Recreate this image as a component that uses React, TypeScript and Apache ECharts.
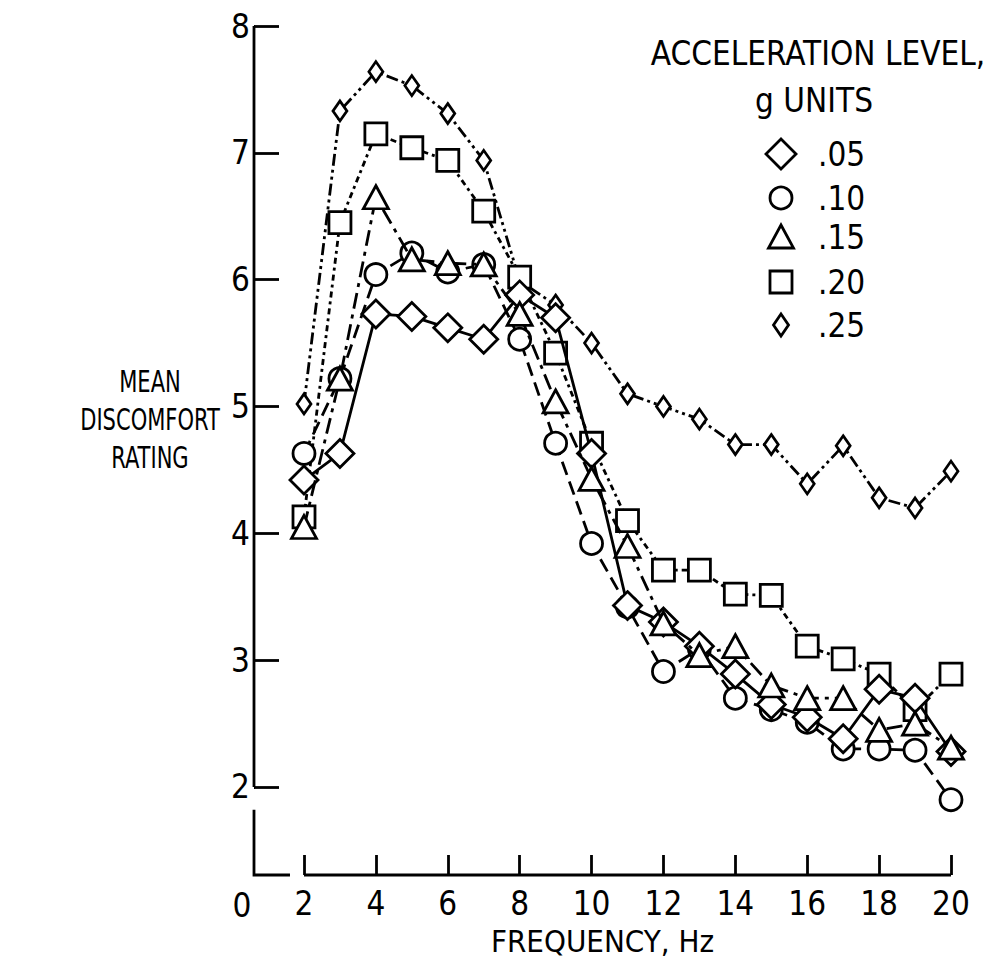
import React, { useEffect, useRef } from "react";
import * as echarts from "echarts";

// ---- data ----
const frequency = [2, 3, 4, 5, 6, 7, 8, 9, 10, 11, 12, 13, 14, 15, 16, 17, 18, 19, 20];
const level05 = [4.42, 4.63, 5.73, 5.71, 5.62, 5.53, 5.88, 5.7, 4.63, 3.43, 3.3, 3.11, 2.89, 2.65, 2.55, 2.38, 2.77, 2.7, 2.28];
const level10 = [4.63, 5.22, 6.04, 6.21, 6.06, 6.12, 5.53, 4.71, 3.92, 3.42, 2.91, 3.09, 2.7, 2.61, 2.51, 2.3, 2.3, 2.29, 1.9];
const level15 = [4.05, 5.22, 6.65, 6.16, 6.13, 6.12, 5.73, 5.04, 4.43, 3.9, 3.29, 3.04, 3.11, 2.8, 2.7, 2.7, 2.45, 2.5, 2.31];
const level20 = [4.13, 6.45, 7.15, 7.04, 6.94, 6.54, 6.02, 5.42, 4.71, 4.1, 3.71, 3.71, 3.52, 3.51, 3.11, 3.01, 2.89, 2.61, 2.89];
const level25 = [5.02, 7.33, 7.64, 7.53, 7.31, 6.94, 5.99, 5.8, 5.5, 5.1, 5.0, 4.9, 4.7, 4.7, 4.39, 4.69, 4.28, 4.2, 4.49];
const levelNames = [".05", ".10", ".15", ".20", ".25"];
const xTickValues = [2, 4, 6, 8, 10, 12, 14, 16, 18, 20];
const yTickValues = [2, 3, 4, 5, 6, 7, 8];
const legendTitle = ["ACCELERATION LEVEL,", "g UNITS"];
const yTitle = "MEAN\nDISCOMFORT\nRATING";
const xTitle = "FREQUENCY, Hz";

const FONT = "'Liberation Sans Narrow', 'DejaVu Sans Condensed', 'Arial Narrow', 'Liberation Sans', sans-serif";
const X_MIN = 0.609;
const Y_MIN = 1.306;

export default function App() {
  const ref = useRef<HTMLDivElement>(null);
  useEffect(() => {
    if (!ref.current) return;
    const chart = echarts.init(ref.current, null, { renderer: "svg" });
    const lw = 2.8;
    const mk = (name: string, vals: number[], symbol: string, size: any, dash: any, z: number) => ({
      name,
      type: "line",
      data: frequency.map((f, i) => [f, vals[i]]),
      symbol,
      symbolSize: size,
      showSymbol: true,
      z,
      lineStyle: { color: "#000", width: lw, type: dash },
      itemStyle: { color: "#fff", borderColor: "#000", borderWidth: lw },
      emphasis: { disabled: true },
    });
    const option: any = {
      animation: false,
      backgroundColor: "#fff",
      textStyle: { fontFamily: FONT },
      grid: { left: 254, right: 39, top: 26, bottom: 92, containLabel: false },
      xAxis: {
        type: "value",
        min: X_MIN,
        max: 20,
        axisLine: { show: false },
        splitLine: { show: false },
        axisTick: { show: true, inside: true, length: 20, customValues: xTickValues, lineStyle: { color: "#000", width: lw } },
        axisLabel: { customValues: xTickValues, color: "#000", fontSize: 33, fontFamily: FONT, margin: 12 },
        name: xTitle,
        nameLocation: "middle",
        nameGap: 50,
        nameTextStyle: { color: "#000", fontSize: 31, fontFamily: FONT },
      },
      yAxis: {
        type: "value",
        min: Y_MIN,
        max: 8,
        axisLine: { show: false },
        splitLine: { show: false },
        axisTick: { show: true, inside: true, length: 25, customValues: yTickValues, lineStyle: { color: "#000", width: lw } },
        axisLabel: { customValues: yTickValues, color: "#000", fontSize: 33, fontFamily: FONT, margin: 4 },
      },
      series: [
        mk(levelNames[0], level05, "diamond", [28, 28], "solid", 5),
        mk(levelNames[1], level10, "circle", 22, [14, 7], 4),
        mk(levelNames[2], level15, "triangle", [25, 23], [16, 6, 4, 6], 6),
        mk(levelNames[3], level20, "rect", 22, [6, 4, 3, 4], 3),
        mk(levelNames[4], level25, "diamond", [14, 20], [12, 4, 3, 4, 3, 4], 2),
      ],
    };
    chart.setOption(option);

    const P = (x: number, y: number) => chart.convertToPixel({ gridIndex: 0 }, [x, y]) as number[];
    const ax = { stroke: "#000", lineWidth: lw, fill: null };
    const top = P(X_MIN, 8);
    const y2 = P(X_MIN, 2);
    const brk = P(X_MIN, 1.82);
    const corner = P(X_MIN, Y_MIN);
    const cornerEnd = P(1.61, Y_MIN);
    const xs = P(2, Y_MIN);
    const xe = P(20, Y_MIN);

    const txt = (text: string, x: number, y: number, size: number, align = "center", extra: any = {}, scaleX = 1) => ({
      type: "text",
      x,
      y,
      scaleX,
      style: { text, fill: "#000", fontSize: size, fontFamily: FONT, align, verticalAlign: "middle", ...extra },
    });

    const lx = 781;
    const ly = [154, 198, 237, 282, 325];
    const sw = { fill: "#fff", stroke: "#000", lineWidth: lw };
    const legendShapes: any[] = [
      { type: "polygon", shape: { points: [[lx, ly[0] - 15], [lx + 15, ly[0]], [lx, ly[0] + 15], [lx - 15, ly[0]]] }, style: sw },
      { type: "circle", shape: { cx: lx, cy: ly[1], r: 11 }, style: sw },
      { type: "polygon", shape: { points: [[lx, ly[2] - 12], [lx + 12.5, ly[2] + 11], [lx - 12.5, ly[2] + 11]] }, style: sw },
      { type: "rect", shape: { x: lx - 11, y: ly[3] - 11, width: 22, height: 22 }, style: sw },
      { type: "polygon", shape: { points: [[lx, ly[4] - 11], [lx + 7.5, ly[4]], [lx, ly[4] + 11], [lx - 7.5, ly[4]]] }, style: sw },
    ];

    chart.setOption({
      graphic: [
        { type: "line", shape: { x1: top[0], y1: top[1], x2: y2[0], y2: y2[1] }, style: ax },
        { type: "polyline", shape: { points: [brk, corner, cornerEnd] }, style: ax },
        { type: "line", shape: { x1: xs[0], y1: xs[1], x2: xe[0], y2: xe[1] }, style: ax },
        txt("0", corner[0] - 12, corner[1] + 30, 33),
        txt(yTitle, 150, 419, 30, "center", { lineHeight: 38 }, 0.78),
        txt(legendTitle[0], 818, 53, 33),
        txt(legendTitle[1], 814, 100, 33),
        ...legendShapes,
        ...levelNames.map((n, i) => txt(n, 818, ly[i], 33, "left")),
      ],
    });

    return () => chart.dispose();
  }, []);
  return <div ref={ref} style={{ position: "absolute", left: 0, top: 0, width: 990, height: 967 }} />;
}
